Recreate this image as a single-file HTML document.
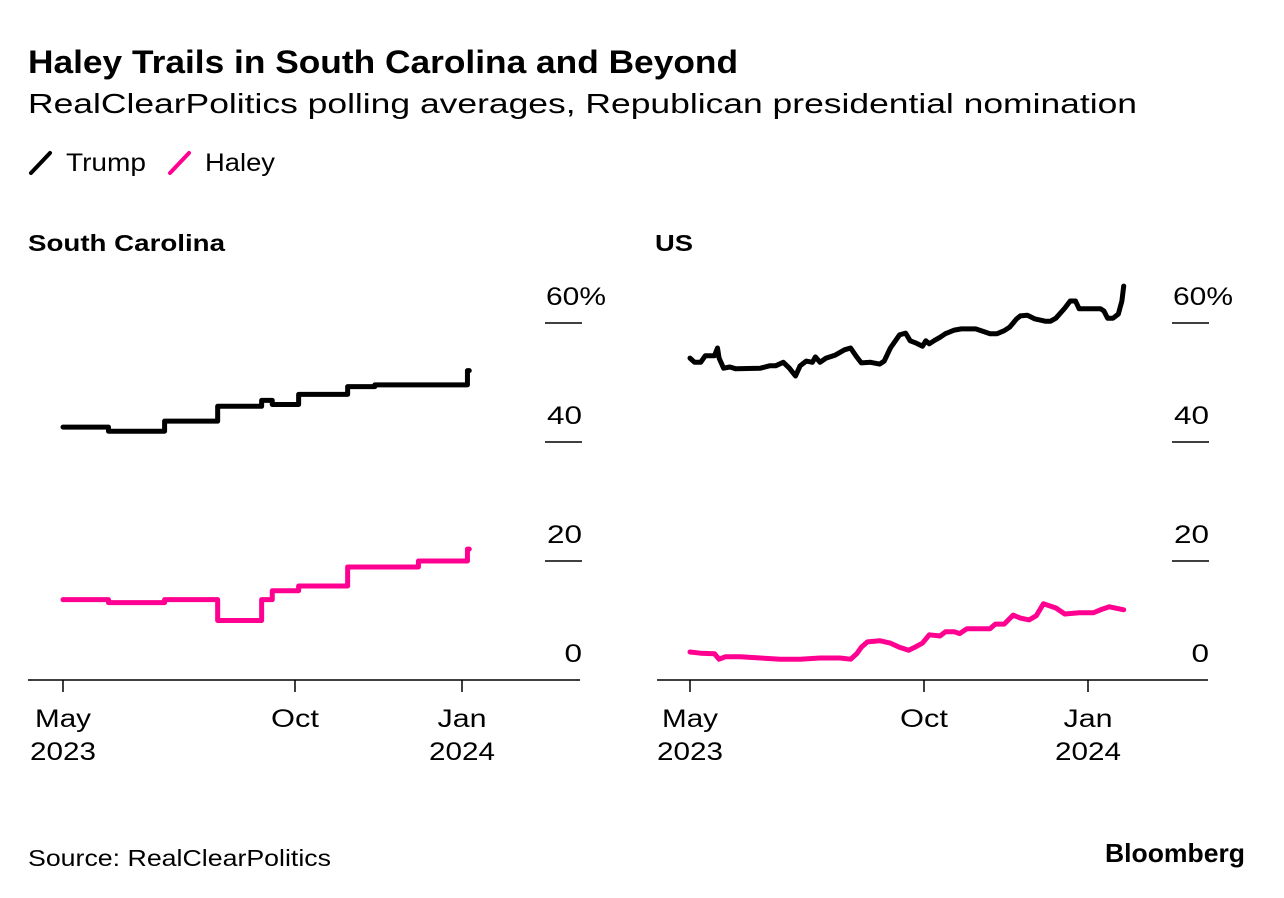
<!DOCTYPE html>
<html><head><meta charset="utf-8"><style>
body{margin:0;background:#fff;}
svg{display:block;font-family:"Liberation Sans",Arial,sans-serif;}
</style></head><body>
<svg id="c" width="1284" height="898">
<text x="28" y="73" font-size="32" font-weight="bold" fill="#000" textLength="710" lengthAdjust="spacingAndGlyphs">Haley Trails in South Carolina and Beyond</text>
<text x="28" y="113" font-size="28" fill="#000" textLength="1109" lengthAdjust="spacingAndGlyphs">RealClearPolitics polling averages, Republican presidential nomination</text>
<g>
<g><line x1="31" y1="173" x2="50" y2="153" stroke="#000" stroke-width="4" stroke-linecap="round"/><text x="66" y="171" font-size="25" textLength="80" lengthAdjust="spacingAndGlyphs">Trump</text></g>
<g><line x1="170" y1="173" x2="189" y2="153" stroke="#ff0090" stroke-width="4" stroke-linecap="round"/><text x="205" y="171" font-size="25" textLength="70" lengthAdjust="spacingAndGlyphs">Haley</text></g>
</g>
<text x="28" y="251" font-size="23" font-weight="bold" textLength="197" lengthAdjust="spacingAndGlyphs">South Carolina</text>
<text x="655" y="251" font-size="23" font-weight="bold" textLength="38" lengthAdjust="spacingAndGlyphs">US</text>
<text x="28" y="866" font-size="23" fill="#000" textLength="303" lengthAdjust="spacingAndGlyphs">Source: RealClearPolitics</text>
<text x="1245" y="862" font-size="26" font-weight="bold" text-anchor="end" textLength="140" lengthAdjust="spacingAndGlyphs">Bloomberg</text>
<g id="p1"></g>
<g id="p2"></g>
</svg>
<script>
// Days since May 1, 2023
const yTicks = [0, 20, 40, 60];
const yTickLabels = ["0", "20", "40", "60%"];
const xTickDays = [0, 153, 245];
const xTickMonths = ["May", "Oct", "Jan"];
const xTickYears = ["2023", "", "2024"];

const scDays = [0, 30, 67, 102, 131, 138, 155, 182, 197, 221, 248];
const scTrump = [42.5, 41.8, 43.5, 46, 47, 46.3, 48, 49.3, 49.6, 49.6, 52];
const scHaley = [13.5, 13.0, 13.5, 10, 13.5, 15, 15.8, 19, 19, 20, 22];
const scEndDay = 249;

const usTrumpDays = [0,3,7,10,16,18,19,22,26,30,46,52,56,61,65,69,72,76,80,82,85,89,95,101,105,109,112,118,124,127,131,137,141,144,148,152,154,156,159,162,165,170,174,182,187,190,194,198,201,205,207,211,215,221,224,227,232,235,238,240,248,252,254,256,259,262,264,265];
const usTrump = [54.1,53.4,53.4,54.5,54.5,55.8,54.1,52.4,52.6,52.3,52.4,52.8,52.8,53.4,52.4,51.1,52.8,53.6,53.4,54.3,53.4,54.1,54.6,55.5,55.8,54.3,53.3,53.4,53.1,53.6,55.8,58.0,58.3,57.0,56.6,56.1,57.0,56.5,57.1,57.6,58.2,58.8,59.0,59.0,58.5,58.2,58.2,58.7,59.3,60.7,61.2,61.3,60.7,60.3,60.3,60.8,62.5,63.7,63.7,62.4,62.4,62.4,62.0,60.8,60.8,61.5,63.7,66.2];
const usHaleyDays = [0,7,16,19,23,33,46,59,72,85,98,105,109,112,116,124,131,137,143,147,152,156,162,165,170,173,177,190,193,198,203,207,212,216,220,227,232,240,248,252,257,265];
const usHaley = [4.7,4.5,4.4,3.5,3.9,3.9,3.7,3.5,3.5,3.7,3.7,3.5,4.4,5.5,6.4,6.6,6.2,5.5,5.0,5.5,6.2,7.6,7.4,8.1,8.1,7.8,8.6,8.6,9.4,9.4,10.9,10.4,10.1,10.8,12.8,12.1,11.1,11.3,11.3,11.8,12.3,11.8];

const NS = "http://www.w3.org/2000/svg";
function mk(parent, tag, attrs) {
  const e = document.createElementNS(NS, tag);
  for (const k in attrs) e.setAttribute(k, attrs[k]);
  parent.appendChild(e);
  return e;
}
function makeX(x0, xOct, xJan) {
  return d => d <= 153 ? x0 + d * (xOct - x0) / 153 : xOct + (d - 153) * (xJan - xOct) / 92;
}
const y = v => 680 - v * 5.95;
const charW = 12.6;

function panel(g, ax0, ax1, x, labelRight) {
  yTicks.forEach((t, i) => {
    if (t > 0) {
      const l = mk(g, "line", {x1: labelRight - 37, x2: labelRight, y1: y(t), y2: y(t), stroke: "#000", "stroke-width": 1.5});
      
      
    }
    const lab = yTickLabels[i];
    const w = lab === "60%" ? 60 : lab.length * 17.5;
    const tx = mk(g, "text", {x: labelRight - (lab === "60%" ? 36 : w), y: y(t) - 18, "font-size": 25, textLength: w, lengthAdjust: "spacingAndGlyphs"});
    tx.textContent = lab;
    
    
  });
  const ax = mk(g, "line", {x1: ax0, x2: ax1, y1: 680, y2: 680, stroke: "#000", "stroke-width": 1.5});
  
  
  const mw = {May: 56, Oct: 48, Jan: 49};
  xTickDays.forEach((d, i) => {
    const tk = mk(g, "line", {x1: x(d), x2: x(d), y1: 680, y2: 692, stroke: "#000", "stroke-width": 1.5});
    
    
    const m = mk(g, "text", {x: x(d), y: 727, "font-size": 25, "text-anchor": "middle", textLength: mw[xTickMonths[i]], lengthAdjust: "spacingAndGlyphs"});
    m.textContent = xTickMonths[i];
    
    
    if (xTickYears[i]) {
      const yr = mk(g, "text", {x: x(d), y: 760, "font-size": 25, "text-anchor": "middle", textLength: 66, lengthAdjust: "spacingAndGlyphs"});
      yr.textContent = xTickYears[i];
      
      
    }
  });
}

// South Carolina
const g1 = document.getElementById("p1");
const x1 = makeX(63, 295, 462);
panel(g1, 28, 580, x1, 582);
function stepPath(days, vals, end) {
  let d = "M" + x1(days[0]) + "," + y(vals[0]);
  for (let i = 1; i < days.length; i++) {
    d += " H" + x1(days[i]) + " V" + y(vals[i]);
  }
  d += " H" + x1(end);
  return d;
}
const sct = mk(g1, "path", {d: stepPath(scDays, scTrump, scEndDay), fill: "none", stroke: "#000", "stroke-width": 5, "stroke-linejoin": "round", "stroke-linecap": "round"});


const sch = mk(g1, "path", {d: stepPath(scDays, scHaley, scEndDay), fill: "none", stroke: "#ff0090", "stroke-width": 5, "stroke-linejoin": "round", "stroke-linecap": "round"});



// US
const g2 = document.getElementById("p2");
const x2 = makeX(690, 924, 1088);
panel(g2, 657, 1208, x2, 1209);
function linePath(days, vals) {
  return days.map((d, i) => (i ? "L" : "M") + x2(d).toFixed(1) + "," + y(vals[i]).toFixed(1)).join(" ");
}
const ust = mk(g2, "path", {d: linePath(usTrumpDays, usTrump), fill: "none", stroke: "#000", "stroke-width": 5, "stroke-linejoin": "round", "stroke-linecap": "round"});


const ush = mk(g2, "path", {d: linePath(usHaleyDays, usHaley), fill: "none", stroke: "#ff0090", "stroke-width": 5, "stroke-linejoin": "round", "stroke-linecap": "round"});


</script>
</body></html>
